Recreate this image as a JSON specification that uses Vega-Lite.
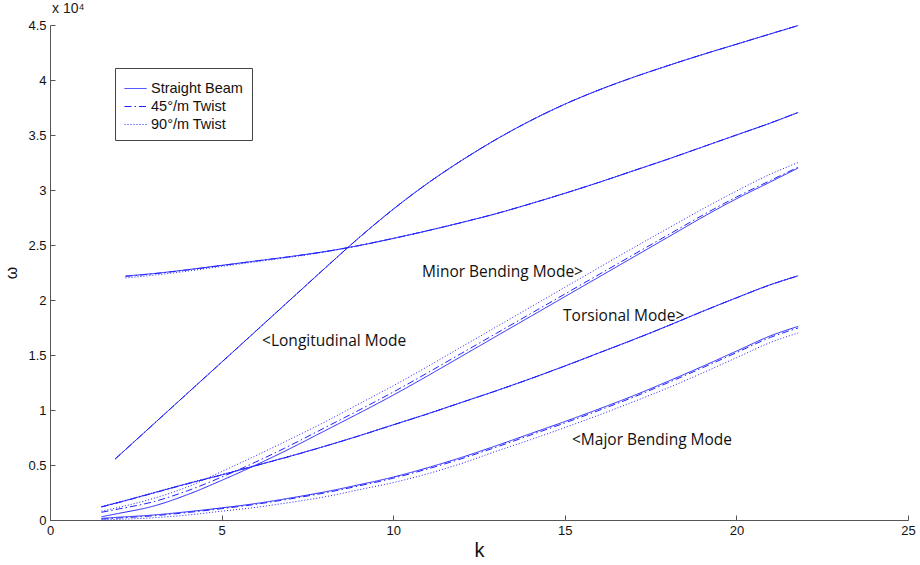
{
  "$schema": "https://vega.github.io/schema/vega-lite/v6.json",
  "width": 858,
  "height": 495,
  "autosize": "none",
  "padding": {"left": 50, "top": 25, "right": 12, "bottom": 45},
  "background": "white",
  "config": {"view": {"stroke": null}, "font": "Liberation Sans"},
  "title": {"text": "x 10⁴", "anchor": "start", "frame": "group", "fontSize": 14, "fontWeight": "normal", "offset": 3, "color": "#222", "font": "Liberation Sans", "dx": 2},
  "datasets": {
    "modes": [
      {"mode": "L", "k": 1.9, "Straight Beam": 5550, "45°/m Twist": 5550, "90°/m Twist": 5550},
      {"mode": "L", "k": 3, "Straight Beam": 8670, "45°/m Twist": 8670, "90°/m Twist": 8670},
      {"mode": "L", "k": 4, "Straight Beam": 11510, "45°/m Twist": 11510, "90°/m Twist": 11510},
      {"mode": "L", "k": 5, "Straight Beam": 14340, "45°/m Twist": 14340, "90°/m Twist": 14340},
      {"mode": "L", "k": 6, "Straight Beam": 17180, "45°/m Twist": 17180, "90°/m Twist": 17180},
      {"mode": "L", "k": 7, "Straight Beam": 20020, "45°/m Twist": 20020, "90°/m Twist": 20020},
      {"mode": "L", "k": 8, "Straight Beam": 22860, "45°/m Twist": 22860, "90°/m Twist": 22860},
      {"mode": "L", "k": 9, "Straight Beam": 25650, "45°/m Twist": 25650, "90°/m Twist": 25650},
      {"mode": "L", "k": 10, "Straight Beam": 28250, "45°/m Twist": 28250, "90°/m Twist": 28250},
      {"mode": "L", "k": 11, "Straight Beam": 30600, "45°/m Twist": 30600, "90°/m Twist": 30600},
      {"mode": "L", "k": 12, "Straight Beam": 32700, "45°/m Twist": 32700, "90°/m Twist": 32700},
      {"mode": "L", "k": 13, "Straight Beam": 34600, "45°/m Twist": 34600, "90°/m Twist": 34600},
      {"mode": "L", "k": 14, "Straight Beam": 36300, "45°/m Twist": 36300, "90°/m Twist": 36300},
      {"mode": "L", "k": 15, "Straight Beam": 37800, "45°/m Twist": 37800, "90°/m Twist": 37800},
      {"mode": "L", "k": 16, "Straight Beam": 39100, "45°/m Twist": 39100, "90°/m Twist": 39100},
      {"mode": "L", "k": 17, "Straight Beam": 40250, "45°/m Twist": 40250, "90°/m Twist": 40250},
      {"mode": "L", "k": 18, "Straight Beam": 41300, "45°/m Twist": 41300, "90°/m Twist": 41300},
      {"mode": "L", "k": 19, "Straight Beam": 42300, "45°/m Twist": 42300, "90°/m Twist": 42300},
      {"mode": "L", "k": 20, "Straight Beam": 43250, "45°/m Twist": 43250, "90°/m Twist": 43250},
      {"mode": "L", "k": 21, "Straight Beam": 44200, "45°/m Twist": 44200, "90°/m Twist": 44200},
      {"mode": "L", "k": 21.8, "Straight Beam": 44950, "45°/m Twist": 44950, "90°/m Twist": 44950},

      {"mode": "U", "k": 2.2, "Straight Beam": 22180, "45°/m Twist": 22150, "90°/m Twist": 22000},
      {"mode": "U", "k": 3, "Straight Beam": 22400, "45°/m Twist": 22380, "90°/m Twist": 22250},
      {"mode": "U", "k": 4, "Straight Beam": 22750, "45°/m Twist": 22730, "90°/m Twist": 22620},
      {"mode": "U", "k": 5, "Straight Beam": 23150, "45°/m Twist": 23130, "90°/m Twist": 23050},
      {"mode": "U", "k": 6, "Straight Beam": 23550, "45°/m Twist": 23540, "90°/m Twist": 23470},
      {"mode": "U", "k": 7, "Straight Beam": 23950, "45°/m Twist": 23940, "90°/m Twist": 23890},
      {"mode": "U", "k": 8, "Straight Beam": 24400, "45°/m Twist": 24390, "90°/m Twist": 24360},
      {"mode": "U", "k": 9, "Straight Beam": 24950, "45°/m Twist": 24950, "90°/m Twist": 24930},
      {"mode": "U", "k": 10, "Straight Beam": 25600, "45°/m Twist": 25600, "90°/m Twist": 25590},
      {"mode": "U", "k": 11, "Straight Beam": 26300, "45°/m Twist": 26300, "90°/m Twist": 26300},
      {"mode": "U", "k": 12, "Straight Beam": 27050, "45°/m Twist": 27050, "90°/m Twist": 27050},
      {"mode": "U", "k": 13, "Straight Beam": 27850, "45°/m Twist": 27850, "90°/m Twist": 27850},
      {"mode": "U", "k": 14, "Straight Beam": 28750, "45°/m Twist": 28750, "90°/m Twist": 28750},
      {"mode": "U", "k": 15, "Straight Beam": 29700, "45°/m Twist": 29700, "90°/m Twist": 29700},
      {"mode": "U", "k": 16, "Straight Beam": 30700, "45°/m Twist": 30700, "90°/m Twist": 30700},
      {"mode": "U", "k": 17, "Straight Beam": 31750, "45°/m Twist": 31750, "90°/m Twist": 31750},
      {"mode": "U", "k": 18, "Straight Beam": 32800, "45°/m Twist": 32800, "90°/m Twist": 32800},
      {"mode": "U", "k": 19, "Straight Beam": 33900, "45°/m Twist": 33900, "90°/m Twist": 33900},
      {"mode": "U", "k": 20, "Straight Beam": 35000, "45°/m Twist": 35000, "90°/m Twist": 35000},
      {"mode": "U", "k": 21, "Straight Beam": 36100, "45°/m Twist": 36100, "90°/m Twist": 36100},
      {"mode": "U", "k": 21.8, "Straight Beam": 37050, "45°/m Twist": 37050, "90°/m Twist": 37050},

      {"mode": "M", "k": 1.5, "Straight Beam": 300, "45°/m Twist": 700, "90°/m Twist": 800},
      {"mode": "M", "k": 2, "Straight Beam": 600, "45°/m Twist": 1000, "90°/m Twist": 1150},
      {"mode": "M", "k": 3, "Straight Beam": 1250, "45°/m Twist": 1650, "90°/m Twist": 1950},
      {"mode": "M", "k": 4, "Straight Beam": 2300, "45°/m Twist": 2650, "90°/m Twist": 3000},
      {"mode": "M", "k": 5, "Straight Beam": 3600, "45°/m Twist": 3900, "90°/m Twist": 4400},
      {"mode": "M", "k": 6, "Straight Beam": 5000, "45°/m Twist": 5280, "90°/m Twist": 5850},
      {"mode": "M", "k": 7, "Straight Beam": 6500, "45°/m Twist": 6780, "90°/m Twist": 7350},
      {"mode": "M", "k": 8, "Straight Beam": 8100, "45°/m Twist": 8380, "90°/m Twist": 8900},
      {"mode": "M", "k": 9, "Straight Beam": 9700, "45°/m Twist": 9980, "90°/m Twist": 10550},
      {"mode": "M", "k": 10, "Straight Beam": 11350, "45°/m Twist": 11630, "90°/m Twist": 12200},
      {"mode": "M", "k": 11, "Straight Beam": 13100, "45°/m Twist": 13380, "90°/m Twist": 13950},
      {"mode": "M", "k": 12, "Straight Beam": 14900, "45°/m Twist": 15170, "90°/m Twist": 15750},
      {"mode": "M", "k": 13, "Straight Beam": 16700, "45°/m Twist": 16960, "90°/m Twist": 17550},
      {"mode": "M", "k": 14, "Straight Beam": 18500, "45°/m Twist": 18750, "90°/m Twist": 19350},
      {"mode": "M", "k": 15, "Straight Beam": 20300, "45°/m Twist": 20540, "90°/m Twist": 21150},
      {"mode": "M", "k": 16, "Straight Beam": 22100, "45°/m Twist": 22330, "90°/m Twist": 22950},
      {"mode": "M", "k": 17, "Straight Beam": 23900, "45°/m Twist": 24120, "90°/m Twist": 24750},
      {"mode": "M", "k": 18, "Straight Beam": 25700, "45°/m Twist": 25900, "90°/m Twist": 26500},
      {"mode": "M", "k": 19, "Straight Beam": 27500, "45°/m Twist": 27680, "90°/m Twist": 28250},
      {"mode": "M", "k": 20, "Straight Beam": 29200, "45°/m Twist": 29360, "90°/m Twist": 29900},
      {"mode": "M", "k": 21, "Straight Beam": 30750, "45°/m Twist": 30880, "90°/m Twist": 31450},
      {"mode": "M", "k": 21.8, "Straight Beam": 32000, "45°/m Twist": 32080, "90°/m Twist": 32500},

      {"mode": "T", "k": 1.5, "Straight Beam": 1200, "45°/m Twist": 1180, "90°/m Twist": 1230},
      {"mode": "T", "k": 2, "Straight Beam": 1600, "45°/m Twist": 1580, "90°/m Twist": 1630},
      {"mode": "T", "k": 3, "Straight Beam": 2450, "45°/m Twist": 2430, "90°/m Twist": 2480},
      {"mode": "T", "k": 4, "Straight Beam": 3300, "45°/m Twist": 3280, "90°/m Twist": 3330},
      {"mode": "T", "k": 5, "Straight Beam": 4100, "45°/m Twist": 4090, "90°/m Twist": 4130},
      {"mode": "T", "k": 6, "Straight Beam": 4950, "45°/m Twist": 4940, "90°/m Twist": 4970},
      {"mode": "T", "k": 7, "Straight Beam": 5800, "45°/m Twist": 5790, "90°/m Twist": 5820},
      {"mode": "T", "k": 8, "Straight Beam": 6700, "45°/m Twist": 6690, "90°/m Twist": 6710},
      {"mode": "T", "k": 9, "Straight Beam": 7650, "45°/m Twist": 7640, "90°/m Twist": 7660},
      {"mode": "T", "k": 10, "Straight Beam": 8650, "45°/m Twist": 8640, "90°/m Twist": 8660},
      {"mode": "T", "k": 11, "Straight Beam": 9650, "45°/m Twist": 9640, "90°/m Twist": 9660},
      {"mode": "T", "k": 12, "Straight Beam": 10700, "45°/m Twist": 10690, "90°/m Twist": 10700},
      {"mode": "T", "k": 13, "Straight Beam": 11750, "45°/m Twist": 11740, "90°/m Twist": 11750},
      {"mode": "T", "k": 14, "Straight Beam": 12850, "45°/m Twist": 12840, "90°/m Twist": 12850},
      {"mode": "T", "k": 15, "Straight Beam": 14000, "45°/m Twist": 13990, "90°/m Twist": 14000},
      {"mode": "T", "k": 16, "Straight Beam": 15200, "45°/m Twist": 15190, "90°/m Twist": 15200},
      {"mode": "T", "k": 17, "Straight Beam": 16400, "45°/m Twist": 16390, "90°/m Twist": 16400},
      {"mode": "T", "k": 18, "Straight Beam": 17650, "45°/m Twist": 17640, "90°/m Twist": 17650},
      {"mode": "T", "k": 19, "Straight Beam": 18950, "45°/m Twist": 18940, "90°/m Twist": 18950},
      {"mode": "T", "k": 20, "Straight Beam": 20200, "45°/m Twist": 20190, "90°/m Twist": 20200},
      {"mode": "T", "k": 21, "Straight Beam": 21400, "45°/m Twist": 21390, "90°/m Twist": 21400},
      {"mode": "T", "k": 21.8, "Straight Beam": 22200, "45°/m Twist": 22190, "90°/m Twist": 22200},

      {"mode": "B", "k": 1.5, "Straight Beam": 150, "45°/m Twist": 80, "90°/m Twist": 0},
      {"mode": "B", "k": 2, "Straight Beam": 250, "45°/m Twist": 180, "90°/m Twist": 60},
      {"mode": "B", "k": 3, "Straight Beam": 450, "45°/m Twist": 380, "90°/m Twist": 200},
      {"mode": "B", "k": 4, "Straight Beam": 750, "45°/m Twist": 680, "90°/m Twist": 450},
      {"mode": "B", "k": 5, "Straight Beam": 1100, "45°/m Twist": 1030, "90°/m Twist": 800},
      {"mode": "B", "k": 6, "Straight Beam": 1500, "45°/m Twist": 1430, "90°/m Twist": 1150},
      {"mode": "B", "k": 7, "Straight Beam": 2000, "45°/m Twist": 1920, "90°/m Twist": 1600},
      {"mode": "B", "k": 8, "Straight Beam": 2550, "45°/m Twist": 2460, "90°/m Twist": 2100},
      {"mode": "B", "k": 9, "Straight Beam": 3200, "45°/m Twist": 3100, "90°/m Twist": 2750},
      {"mode": "B", "k": 10, "Straight Beam": 3900, "45°/m Twist": 3800, "90°/m Twist": 3400},
      {"mode": "B", "k": 11, "Straight Beam": 4750, "45°/m Twist": 4640, "90°/m Twist": 4200},
      {"mode": "B", "k": 12, "Straight Beam": 5700, "45°/m Twist": 5580, "90°/m Twist": 5150},
      {"mode": "B", "k": 13, "Straight Beam": 6750, "45°/m Twist": 6620, "90°/m Twist": 6250},
      {"mode": "B", "k": 14, "Straight Beam": 7850, "45°/m Twist": 7720, "90°/m Twist": 7300},
      {"mode": "B", "k": 15, "Straight Beam": 8950, "45°/m Twist": 8820, "90°/m Twist": 8400},
      {"mode": "B", "k": 16, "Straight Beam": 10100, "45°/m Twist": 9970, "90°/m Twist": 9550},
      {"mode": "B", "k": 17, "Straight Beam": 11300, "45°/m Twist": 11170, "90°/m Twist": 10750},
      {"mode": "B", "k": 18, "Straight Beam": 12600, "45°/m Twist": 12470, "90°/m Twist": 12000},
      {"mode": "B", "k": 19, "Straight Beam": 13950, "45°/m Twist": 13820, "90°/m Twist": 13350},
      {"mode": "B", "k": 20, "Straight Beam": 15350, "45°/m Twist": 15210, "90°/m Twist": 14750},
      {"mode": "B", "k": 21, "Straight Beam": 16750, "45°/m Twist": 16610, "90°/m Twist": 16150},
      {"mode": "B", "k": 21.8, "Straight Beam": 17600, "45°/m Twist": 17460, "90°/m Twist": 17000}
    ],
    "notes": [
      {"k": 6.18, "w": 16270, "label": "<Longitudinal Mode"},
      {"k": 10.84, "w": 22550, "label": "Minor Bending Mode>"},
      {"k": 14.95, "w": 18550, "label": "Torsional Mode>"},
      {"k": 15.21, "w": 7270, "label": "<Major Bending Mode"}
    ]
  },
  "layer": [
    {
      "data": {"name": "modes"},
      "transform": [{"fold": ["Straight Beam", "45°/m Twist", "90°/m Twist"], "as": ["variant", "w"]}],
      "mark": {"type": "line", "interpolate": "monotone", "strokeWidth": 1, "color": "#2020ff"},
      "encoding": {
        "x": {
          "field": "k", "type": "quantitative",
          "scale": {"domain": [0, 25], "nice": false, "zero": false},
          "axis": {"title": "k", "values": [0, 5, 10, 15, 20, 25], "grid": false, "tickSize": -5, "labelPadding": 9, "domainColor": "#555", "tickColor": "#555", "labelFont": "Liberation Sans", "labelFontSize": 13, "labelColor": "#111", "titleFont": "Liberation Sans", "titleFontSize": 20, "titleFontWeight": "normal", "titlePadding": 3, "titleColor": "#111", "labelFlush": false}
        },
        "y": {
          "field": "w", "type": "quantitative",
          "scale": {"domain": [0, 45000], "nice": false},
          "axis": {"title": "ω", "values": [0, 5000, 10000, 15000, 20000, 25000, 30000, 35000, 40000, 45000], "labelExpr": "format(datum.value/10000, '~g')", "grid": false, "tickSize": -5, "labelPadding": 9, "domainColor": "#555", "tickColor": "#555", "labelFont": "Liberation Sans", "labelFontSize": 13, "labelColor": "#111", "titleFont": "Liberation Sans", "titleFontSize": 16, "titleFontWeight": "normal", "titlePadding": 8, "titleColor": "#111", "labelFlush": false}
        },
        "detail": {"field": "mode", "type": "nominal"},
        "strokeDash": {
          "field": "variant", "type": "nominal",
          "scale": {"domain": ["Straight Beam", "45°/m Twist", "90°/m Twist"], "range": [[1, 0], [7, 3, 1.5, 3], [1, 2]]},
          "legend": {"title": null, "orient": "none", "legendX": 65, "legendY": 43, "padding": 9, "rowPadding": 0, "strokeColor": "#444", "fillColor": "white", "symbolType": "stroke", "symbolSize": 484, "symbolStrokeWidth": 1, "symbolStrokeColor": "#2020ff", "labelFont": "Liberation Sans", "labelFontSize": 14.5, "labelColor": "#111", "labelOffset": 4, "labelLimit": 200}
        }
      }
    },
    {
      "data": {"name": "notes"},
      "mark": {"type": "text", "align": "left", "baseline": "middle", "font": "Open Sans", "fontSize": 15.5, "color": "#111"},
      "encoding": {
        "x": {"field": "k", "type": "quantitative"},
        "y": {"field": "w", "type": "quantitative"},
        "text": {"field": "label", "type": "nominal"}
      }
    }
  ]
}
